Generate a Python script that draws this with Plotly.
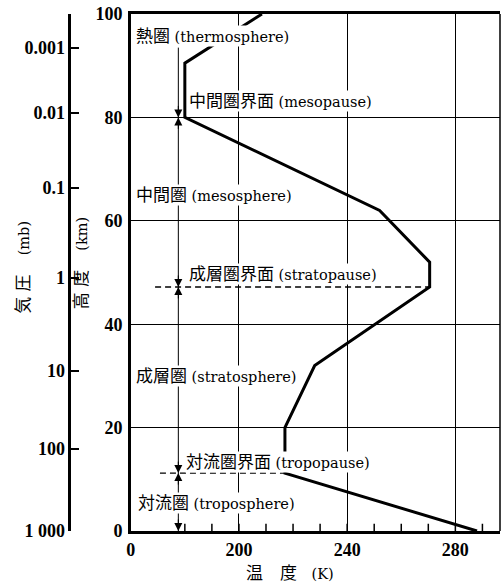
import plotly.graph_objects as go

# Temperature profile of the standard atmosphere
temp_K = [288, 217, 217, 228, 270.5, 270.5, 252, 180, 180, 208.5]
alt_km = [0, 11.2, 20, 32, 47.2, 52, 62, 80, 90.5, 100]

# Pressure axis (mb) positioned by altitude
pressure_labels = ["0.001", "0.01", "0.1", "1", "10", "100", "1 000"]
pressure_alt_km = [93.5, 80.9, 66.4, 49.0, 31.0, 15.9, 0]

x_tick_vals = [160, 200, 240, 280]
x_tick_text = ["0", "200", "240", "280"]
x_minor_ticks = [180, 190, 200, 210, 220, 230, 240, 250, 260, 270, 280, 290]
minor_tick_len_km = 1.4
y_tick_vals = [0, 20, 40, 60, 80, 100]

# Boundaries (pauses)
mesopause_km = 80
stratopause_km = 47.2
tropopause_km = 11.2
stratopause_dash_T = [169, 270.5]
tropopause_dash_T = [170.8, 217]

# Layer-span arrow line
arrow_T = 177.6
arrow_top_km = 93.5

# Region labels: (CJK, latin, T at left edge, altitude)
label_cjk = ["熱圏", "中間圏界面", "中間圏", "成層圏界面", "成層圏", "対流圏界面", "対流圏"]
label_lat = ["(thermosphere)", "(mesopause)", "(mesosphere)", "(stratopause)",
             "(stratosphere)", "(tropopause)", "(troposphere)"]
label_T = [163.5, 182.9, 163.5, 182.9, 163.5, 181.9, 164.2]
label_km = [95.8, 83.2, 65.0, 49.7, 30.0, 13.4, 5.4]

SERIF = "Liberation Serif"
ANN_FONT = "DejaVu Serif, Noto Sans CJK JP"
CJK_SIZE = 17

fig = go.Figure()

# minor ticks along the bottom, one short segment per tick value
for t in x_minor_ticks:
    fig.add_trace(go.Scatter(x=[t, t], y=[0, minor_tick_len_km], mode="lines",
                             line=dict(color="black", width=1.5),
                             hoverinfo="skip", showlegend=False))

# dashed pause lines
fig.add_trace(go.Scatter(x=stratopause_dash_T, y=[stratopause_km] * 2, mode="lines",
                         line=dict(color="black", width=1.3, dash="6px,4px"),
                         hoverinfo="skip", showlegend=False))
fig.add_trace(go.Scatter(x=tropopause_dash_T, y=[tropopause_km] * 2, mode="lines",
                         line=dict(color="black", width=1.3, dash="6px,4px"),
                         hoverinfo="skip", showlegend=False))
# vertical span line
fig.add_trace(go.Scatter(x=[arrow_T, arrow_T], y=[0, arrow_top_km], mode="lines",
                         line=dict(color="black", width=1),
                         hoverinfo="skip", showlegend=False))
# temperature profile
fig.add_trace(go.Scatter(x=temp_K, y=alt_km, mode="lines",
                         line=dict(color="black", width=3),
                         hoverinfo="skip", showlegend=False))
# invisible trace to activate pressure axis
fig.add_trace(go.Scatter(x=[arrow_T] * len(pressure_alt_km), y=pressure_alt_km, yaxis="y2",
                         mode="markers", marker=dict(size=1, opacity=0),
                         hoverinfo="skip", showlegend=False))

annotations = []
for c, l, t, k in zip(label_cjk, label_lat, label_T, label_km):
    annotations.append(dict(
        x=t, y=k, xref="x", yref="y", xanchor="left", yanchor="middle", xshift=-5,
        text=f'<span style="font-size:{CJK_SIZE}px">{c}</span> {l}',
        showarrow=False, bgcolor="white", borderpad=0,
        font=dict(family=ANN_FONT, size=14.5, color="black")))

# arrowheads at boundaries
for b in [mesopause_km, stratopause_km, tropopause_km]:
    for ay in (-13, 13):
        annotations.append(dict(x=arrow_T, y=b, xref="x", yref="y", ax=0, ay=ay,
                                text="", showarrow=True, arrowhead=2, arrowsize=1.6,
                                arrowwidth=1, arrowcolor="black", standoff=0))
annotations.append(dict(x=arrow_T, y=0, xref="x", yref="y", ax=0, ay=-13,
                        text="", showarrow=True, arrowhead=2, arrowsize=1.6,
                        arrowwidth=1, arrowcolor="black", standoff=0))

# axis titles
annotations.append(dict(x=18 / 500, y=1 - (267 - 14) / 517, xref="paper", yref="paper",
                        xanchor="center", yanchor="middle",
                        text=f'<span style="font-size:{CJK_SIZE}px">気 圧</span>　 (mb)',
                        textangle=-90, showarrow=False,
                        font=dict(family=ANN_FONT, size=14.5, color="black")))
annotations.append(dict(x=77 / 500, y=1 - (263 - 14) / 517, xref="paper", yref="paper",
                        xanchor="center", yanchor="middle",
                        text=f'<span style="font-size:{CJK_SIZE}px">高 度</span>　 (km)',
                        textangle=-90, showarrow=False,
                        font=dict(family=ANN_FONT, size=14.5, color="black")))
annotations.append(dict(x=288 / 500, y=-(573 - 531) / 517, xref="paper", yref="paper",
                        xanchor="center", yanchor="middle",
                        text=f'<span style="font-size:{CJK_SIZE}px">温　度</span>　(K)',
                        showarrow=False,
                        font=dict(family=ANN_FONT, size=14.5, color="black")))

tick_font = dict(family=SERIF, size=18, color="black", weight="bold")

fig.update_layout(
    width=503, height=586,
    margin=dict(l=0, r=3, t=14, b=55),
    paper_bgcolor="white", plot_bgcolor="white",
    showlegend=False,
    xaxis=dict(domain=[127 / 500, 1], range=[160, 296.5],
               tickmode="array", tickvals=x_tick_vals, ticktext=x_tick_text,
               ticks="", showgrid=True, gridcolor="black", gridwidth=1,
               showline=True, linecolor="black", linewidth=3, mirror=True,
               zeroline=False, tickfont=tick_font),
    yaxis=dict(range=[0, 100], tickmode="array", tickvals=y_tick_vals,
               ticks="", showgrid=True, gridcolor="black", gridwidth=1,
               showline=True, linecolor="black", linewidth=2.5,
               zeroline=False, tickfont=tick_font, ticklabelstandoff=2),
    yaxis2=dict(range=[0, 100], overlaying="y", anchor="free", position=65 / 500,
                side="left", tickmode="array", tickvals=pressure_alt_km,
                ticktext=pressure_labels, ticks="inside", ticklen=8, tickwidth=1.5,
                tickcolor="black", showgrid=False, showline=True, linecolor="black",
                linewidth=2.5, zeroline=False, tickfont=tick_font),
    annotations=annotations,
    shapes=[dict(type="line", xref="paper", yref="paper", x0=1, x1=1, y0=0, y1=1,
                 line=dict(color="black", width=1.5))],
)

fig.write_html("out.html")
